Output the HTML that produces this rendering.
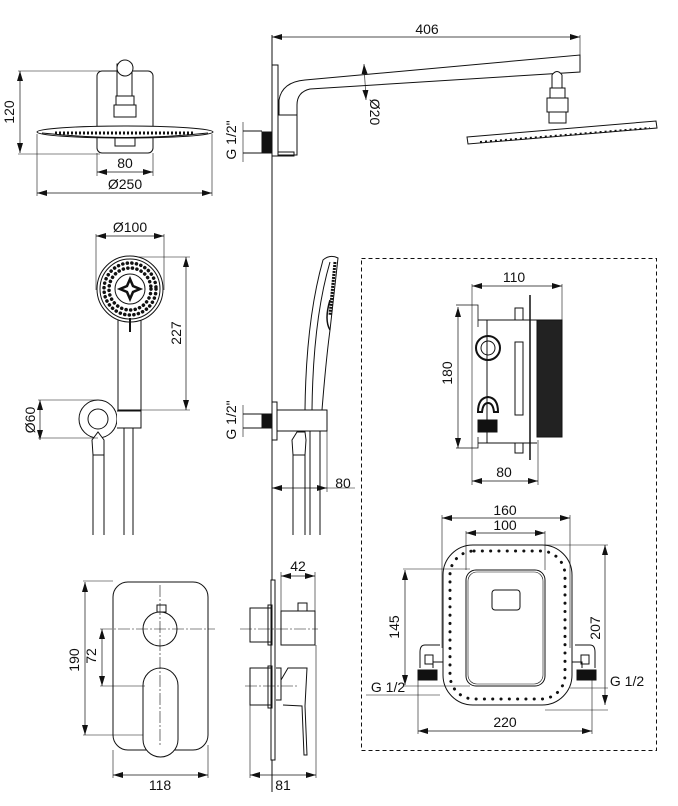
<!DOCTYPE html>
<html><head><meta charset="utf-8"><style>
html,body{margin:0;padding:0;background:#fff}
svg{display:block}
text{font-family:"Liberation Sans Narrow","Liberation Sans",sans-serif;font-size:14px;fill:#111}
</style></head><body>
<svg width="678" height="806" viewBox="0 0 678 806" xmlns="http://www.w3.org/2000/svg">
<defs>
<marker id="a" markerWidth="10" markerHeight="6" refX="10" refY="3" orient="auto-start-reverse" markerUnits="userSpaceOnUse"><path d="M0,0 L10,3 L0,6 z" fill="#111"/></marker>
</defs>
<g fill="none" stroke="#111" stroke-width="1">

<line x1="20" y1="71" x2="20" y2="153" marker-start="url(#a)" marker-end="url(#a)" stroke-width="0.7"/>
<line x1="18" y1="71" x2="100" y2="71" stroke-width="0.6"/>
<line x1="18" y1="154" x2="100" y2="154" stroke-width="0.6"/>
<rect x="97" y="71" width="56" height="82" rx="5"/>
<rect x="117" y="64" width="15" height="32" fill="#fff"/>
<circle cx="125" cy="68" r="8" fill="#fff"/>
<rect x="116" y="96" width="18" height="9" fill="#fff"/>
<rect x="114" y="105" width="22" height="12" fill="#fff"/>
<ellipse cx="125" cy="132" rx="88" ry="6" fill="#fff"/>
<path d="M42 133 Q125 142 208 133" />
<path d="M55 133 L195 133" stroke-dasharray="2 2" stroke-width="3"/>
<rect x="115" y="138" width="20" height="8" fill="#fff"/>
<line x1="97" y1="153" x2="97" y2="176" stroke-width="0.6"/>
<line x1="153" y1="153" x2="153" y2="176" stroke-width="0.6"/>
<line x1="97" y1="172" x2="153" y2="172" marker-start="url(#a)" marker-end="url(#a)" stroke-width="0.7"/>
<line x1="37" y1="134" x2="37" y2="196" stroke-width="0.6"/>
<line x1="212" y1="134" x2="212" y2="196" stroke-width="0.6"/>
<line x1="37" y1="193" x2="212" y2="193" marker-start="url(#a)" marker-end="url(#a)" stroke-width="0.7"/>

<line x1="272" y1="35" x2="272" y2="792"/>
<line x1="272" y1="37" x2="580" y2="37" marker-start="url(#a)" marker-end="url(#a)" stroke-width="0.7"/>
<line x1="580" y1="35" x2="580" y2="72" stroke-width="0.6"/>
<rect x="272" y="65" width="6" height="91"/>
<path d="M279 115 L279 100 Q282 82 305 80 L580 55 L580 72 L310 89 Q297 92 297 105 L297 115"/>
<rect x="278" y="115" width="19" height="40" fill="#fff"/>
<rect x="278" y="152" width="16" height="4"/>
<line x1="243" y1="131" x2="262" y2="131"/>
<line x1="243" y1="153" x2="262" y2="153"/>
<rect x="262" y="132" width="10" height="21" fill="#111"/>
<line x1="243" y1="122" x2="243" y2="162" stroke-width="0.6"/>
<line x1="364" y1="64" x2="366" y2="100" marker-start="url(#a)" marker-end="url(#a)" stroke-width="0.6"/>
<path d="M552 75 Q557 68 562 75 L562 88 L552 88 z" fill="#fff"/>
<rect x="550" y="88" width="15" height="10"/>
<rect x="547" y="98" width="21" height="14"/>
<rect x="549" y="112" width="17" height="11"/>
<polygon points="467,137 656,121 657,128 468,144" fill="#fff"/>
<line x1="480" y1="142" x2="650" y2="128" stroke-dasharray="2 3" stroke-width="2"/>

<line x1="96" y1="236" x2="164" y2="236" marker-start="url(#a)" marker-end="url(#a)" stroke-width="0.7"/>
<line x1="96" y1="234" x2="96" y2="290" stroke-width="0.6"/>
<line x1="164" y1="234" x2="164" y2="290" stroke-width="0.6"/>
<line x1="130" y1="257" x2="190" y2="257" stroke-width="0.6"/>
<line x1="140" y1="410" x2="190" y2="410" stroke-width="0.6"/>
<line x1="186" y1="257" x2="186" y2="410" marker-start="url(#a)" marker-end="url(#a)" stroke-width="0.7"/>
<path d="M118 318 L118 410 L141 410 L141 318" fill="#fff"/>
<circle cx="130" cy="289" r="33" fill="#fff"/>
<circle cx="130" cy="289" r="30"/>
<circle cx="130" cy="289" r="26" stroke-dasharray="0.1 4.5" stroke-width="3.5" stroke-linecap="round"/>
<circle cx="130" cy="289" r="21" stroke-dasharray="0.1 4.5" stroke-width="3.5" stroke-linecap="round"/>
<circle cx="130" cy="289" r="15"/>
<path d="M130 279 L133 286 L140 289 L133 292 L130 299 L127 292 L120 289 L127 286 z" stroke-width="2.5"/>
<line x1="130" y1="318" x2="130" y2="332" stroke-width="2"/>
<circle cx="98" cy="419" r="19" fill="#fff"/>
<circle cx="98" cy="419" r="10"/>
<path d="M117 411 L141 411 L141 428 L117 428" fill="#fff"/>
<path d="M92 440 L98 432 L104 440 L104 455 L93 455 z" fill="#fff"/>
<line x1="93" y1="455" x2="93" y2="535"/><line x1="104" y1="455" x2="104" y2="535"/>
<line x1="124" y1="428" x2="124" y2="535"/><line x1="133" y1="428" x2="133" y2="535"/>
<line x1="40" y1="400" x2="40" y2="440" marker-start="url(#a)" marker-end="url(#a)" stroke-width="0.7"/>
<line x1="38" y1="400" x2="98" y2="400" stroke-width="0.6"/>
<line x1="38" y1="438" x2="98" y2="438" stroke-width="0.6"/>

<rect x="272" y="402" width="5" height="38"/>
<rect x="262" y="414" width="10" height="14" fill="#111"/>
<line x1="243" y1="414" x2="262" y2="414"/><line x1="243" y1="428" x2="262" y2="428"/>
<line x1="243" y1="405" x2="243" y2="437" stroke-width="0.6"/>
<rect x="277" y="410" width="50" height="21" fill="#fff"/>
<path d="M305 410 Q306 320 323 260 Q330 254 338 258 L330 330 Q326 360 322 410"/>
<path d="M312 410 Q313 320 330 262"/>
<path d="M330 300 Q324 320 330 330" stroke-width="1.5"/>
<line x1="335" y1="262" x2="330" y2="315" stroke-dasharray="2 1" stroke-width="3"/>
<path d="M292 440 L297 432 L305 432 L306 440 L305 455 L293 455 z" fill="#fff"/>
<line x1="293" y1="455" x2="293" y2="535"/><line x1="305" y1="455" x2="305" y2="535"/>
<line x1="310" y1="431" x2="310" y2="535"/><line x1="320" y1="431" x2="320" y2="535"/>
<line x1="327" y1="431" x2="327" y2="492" stroke-width="0.6"/>
<line x1="272" y1="488" x2="327" y2="488" marker-start="url(#a)" marker-end="url(#a)" stroke-width="0.7"/>
<line x1="327" y1="488" x2="355" y2="488" stroke-width="0.6"/>

<rect x="361.5" y="258.5" width="295" height="492" stroke-dasharray="4 3"/>

<line x1="472" y1="286" x2="562" y2="286" marker-start="url(#a)" marker-end="url(#a)" stroke-width="0.7"/>
<line x1="472" y1="284" x2="472" y2="485" stroke-width="0.6"/>
<line x1="562" y1="284" x2="562" y2="320" stroke-width="0.6"/>
<line x1="538" y1="440" x2="538" y2="485" stroke-width="0.6"/>
<line x1="458" y1="307" x2="458" y2="448" marker-start="url(#a)" marker-end="url(#a)" stroke-width="0.7"/>
<path d="M456 305 L478 305 L478 327" stroke-width="0.8"/>
<path d="M456 448 L478 448 L478 437" stroke-width="0.8"/>
<line x1="478" y1="320" x2="537" y2="320"/>
<line x1="487" y1="320" x2="487" y2="443"/>
<line x1="478" y1="443" x2="537" y2="443"/>
<circle cx="488" cy="348" r="12" stroke-width="2"/><circle cx="488" cy="348" r="7"/>
<path d="M478 412 Q478 398 488 397 Q498 398 498 412 L494 412 Q493 403 488 403 Q483 403 482 412 z" stroke-width="2"/>
<rect x="478" y="420" width="19" height="12" fill="#111"/>
<rect x="515" y="308" width="8" height="12"/>
<rect x="515" y="443" width="8" height="10"/>
<rect x="515" y="342" width="8" height="73"/>
<line x1="530" y1="295" x2="530" y2="460" stroke-width="1.5"/>
<rect x="537" y="320" width="25" height="117" fill="#222"/>
<line x1="472" y1="481" x2="538" y2="481" marker-start="url(#a)" marker-end="url(#a)" stroke-width="0.7"/>

<rect x="443" y="545" width="129" height="160" rx="30" fill="#fff"/>
<rect x="450" y="551" width="115" height="148" rx="24" stroke-dasharray="0.1 8.2" stroke-width="3" stroke-linecap="round"/>
<rect x="466" y="570" width="79" height="116" rx="10"/>
<rect x="468" y="572" width="75" height="112" rx="9" stroke-width="0.6"/>
<rect x="492" y="590" width="28" height="20" rx="3"/>
<line x1="442" y1="518" x2="570" y2="518" marker-start="url(#a)" marker-end="url(#a)" stroke-width="0.7"/>
<line x1="442" y1="515" x2="442" y2="648" stroke-width="0.6"/>
<line x1="570" y1="515" x2="570" y2="648" stroke-width="0.6"/>
<line x1="466" y1="533" x2="545" y2="533" marker-start="url(#a)" marker-end="url(#a)" stroke-width="0.7"/>
<line x1="466" y1="531" x2="466" y2="570" stroke-width="0.6"/>
<line x1="545" y1="531" x2="545" y2="570" stroke-width="0.6"/>
<line x1="405" y1="570" x2="405" y2="685" marker-start="url(#a)" marker-end="url(#a)" stroke-width="0.7"/>
<line x1="403" y1="569" x2="470" y2="569" stroke-width="0.6"/>
<line x1="403" y1="686" x2="470" y2="686" stroke-width="0.6"/>
<line x1="605" y1="545" x2="605" y2="705" marker-start="url(#a)" marker-end="url(#a)" stroke-width="0.7"/>
<line x1="545" y1="545" x2="608" y2="545" stroke-width="0.6"/>
<line x1="545" y1="710" x2="608" y2="710" stroke-width="0.6"/>
<line x1="418" y1="731" x2="592" y2="731" marker-start="url(#a)" marker-end="url(#a)" stroke-width="0.7"/>
<line x1="418" y1="680" x2="418" y2="734" stroke-width="0.6"/>
<line x1="592" y1="680" x2="592" y2="734" stroke-width="0.6"/>
<path d="M440 645 L425 645 Q420 645 420 652 L420 668 M433 668 L433 662 L443 662" />
<rect x="425" y="655" width="8" height="9"/>
<rect x="418" y="670" width="19" height="10" fill="#111"/>
<line x1="366" y1="695" x2="440" y2="695" stroke-width="0.6"/>
<path d="M575 645 L590 645 Q595 645 595 652 L595 668 M582 668 L582 662 L572 662"/>
<rect x="581" y="655" width="8" height="9"/>
<rect x="577" y="670" width="19" height="10" fill="#111"/>
<line x1="570" y1="688" x2="608" y2="688" stroke-width="0.6"/>

<rect x="113" y="582" width="95" height="168" rx="15" fill="#fff"/>
<circle cx="160" cy="629" r="17"/>
<rect x="157" y="605" width="9" height="7"/>
<rect x="143" y="668" width="35" height="89" rx="17.5" fill="#fff"/>
<line x1="100" y1="629" x2="215" y2="629" stroke-width="0.6" stroke-dasharray="12 2 2 2"/>
<line x1="160" y1="585" x2="160" y2="745" stroke-width="0.6" stroke-dasharray="12 2 2 2"/>
<line x1="85" y1="582" x2="85" y2="735" marker-start="url(#a)" marker-end="url(#a)" stroke-width="0.7"/>
<line x1="83" y1="581" x2="113" y2="581" stroke-width="0.6"/>
<line x1="83" y1="735" x2="143" y2="735" stroke-width="0.6"/>
<line x1="102" y1="629" x2="102" y2="686" marker-start="url(#a)" marker-end="url(#a)" stroke-width="0.7"/>
<line x1="100" y1="686" x2="145" y2="686" stroke-width="0.6"/>
<line x1="113" y1="750" x2="113" y2="778" stroke-width="0.6"/>
<line x1="208" y1="745" x2="208" y2="778" stroke-width="0.6"/>
<line x1="113" y1="775" x2="208" y2="775" marker-start="url(#a)" marker-end="url(#a)" stroke-width="0.7"/>

<rect x="271" y="580" width="4" height="180" fill="#fff"/>
<rect x="250" y="608" width="21" height="34"/>
<rect x="268" y="605" width="4" height="40"/>
<rect x="281" y="611" width="34" height="34"/>
<rect x="298" y="603" width="9" height="8"/>
<rect x="250" y="668" width="21" height="37"/>
<rect x="268" y="666" width="4" height="42"/>
<path d="M276 668 L281 668 L281 700 L276 700"/>
<path d="M281 680 L288 668 L307 668 L305 706 L307 755 L304 755 L302 706 L283 705"/>
<line x1="240" y1="629" x2="318" y2="629" stroke-width="0.6" stroke-dasharray="12 2 2 2"/>
<line x1="245" y1="686" x2="298" y2="686" stroke-width="0.6" stroke-dasharray="12 2 2 2"/>
<line x1="281" y1="572" x2="281" y2="611" stroke-width="0.6"/>
<line x1="315" y1="572" x2="315" y2="611" stroke-width="0.6"/>
<line x1="281" y1="576" x2="315" y2="576" marker-start="url(#a)" marker-end="url(#a)" stroke-width="0.7"/>
<line x1="250" y1="705" x2="250" y2="778" stroke-width="0.6"/>
<line x1="316" y1="645" x2="316" y2="778" stroke-width="0.6"/>
<line x1="250" y1="775" x2="316" y2="775" marker-start="url(#a)" marker-end="url(#a)" stroke-width="0.7"/>
</g>

<text x="14" y="112" text-anchor="middle" transform="rotate(-90 14 112)">120</text>
<text x="125" y="168" text-anchor="middle">80</text>
<text x="125" y="189" text-anchor="middle">Ø250</text>
<text x="427" y="34" text-anchor="middle">406</text>
<text x="236" y="140" text-anchor="middle" transform="rotate(-90 236 140)">G 1/2"</text>
<text x="370" y="112" text-anchor="middle" transform="rotate(90 370 112)">Ø20</text>
<text x="130" y="232" text-anchor="middle">Ø100</text>
<text x="181" y="333" text-anchor="middle" transform="rotate(-90 181 333)">227</text>
<text x="35" y="420" text-anchor="middle" transform="rotate(-90 35 420)">Ø60</text>
<text x="236" y="420" text-anchor="middle" transform="rotate(-90 236 420)">G 1/2"</text>
<text x="343" y="488" text-anchor="middle">80</text>
<text x="514" y="282" text-anchor="middle">110</text>
<text x="452" y="373" text-anchor="middle" transform="rotate(-90 452 373)">180</text>
<text x="504" y="477" text-anchor="middle">80</text>
<text x="505" y="515" text-anchor="middle">160</text>
<text x="505" y="530" text-anchor="middle">100</text>
<text x="399" y="627" text-anchor="middle" transform="rotate(-90 399 627)">145</text>
<text x="600" y="628" text-anchor="middle" transform="rotate(-90 600 628)">207</text>
<text x="505" y="727" text-anchor="middle">220</text>
<text x="388" y="692" text-anchor="middle">G 1/2</text>
<text x="627" y="686" text-anchor="middle">G 1/2</text>
<text x="79" y="660" text-anchor="middle" transform="rotate(-90 79 660)">190</text>
<text x="96" y="656" text-anchor="middle" transform="rotate(-90 96 656)">72</text>
<text x="160" y="790" text-anchor="middle">118</text>
<text x="298" y="571" text-anchor="middle">42</text>
<text x="283" y="790" text-anchor="middle">81</text>
</svg>
</body></html>
